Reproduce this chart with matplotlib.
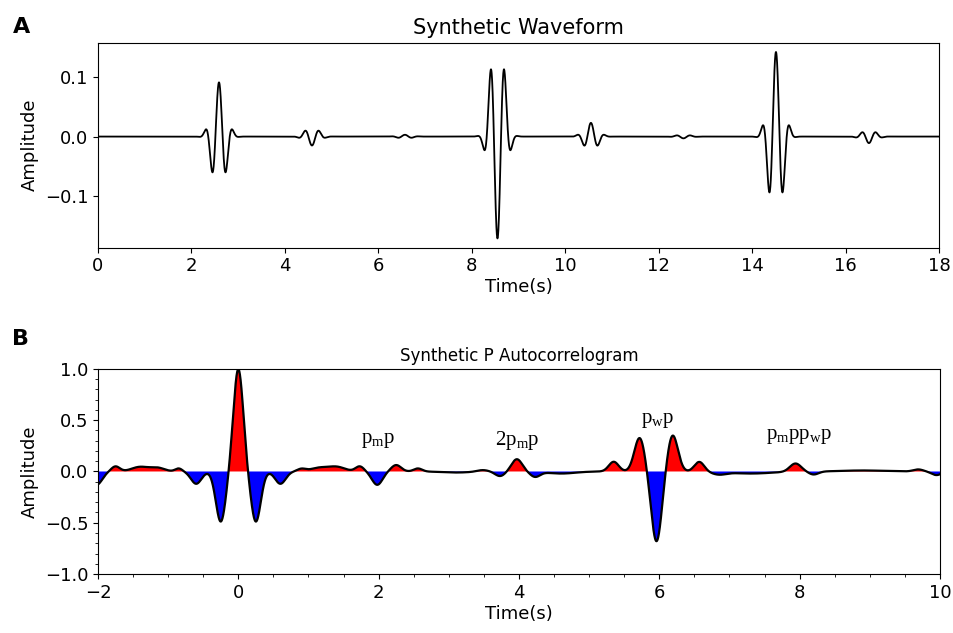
import numpy as np
import matplotlib
matplotlib.use('Agg')
import matplotlib.pyplot as plt
from matplotlib.ticker import MultipleLocator

# A: arrivals in the synthetic trace (time in s, signed peak amplitude)
event_time = [2.59, 4.58, 6.57, 8.55, 10.55, 12.53, 14.51, 16.50]
event_amp = [0.091, -0.015, 0.003, -0.171, 0.023, -0.003, 0.142, -0.011]

# B: lobes of the autocorrelogram (lag in s, amplitude, half width)
lobe_lag = [-2.02, -1.75, -1.40, -1.15, -0.85, -0.60, -0.25, 0.00, 0.25, 0.60,
            0.90, 1.15, 1.40, 1.73, 1.98, 2.25, 2.56, 3.10, 3.48, 3.73,
            3.97, 4.23, 4.60, 5.35, 5.72, 5.96, 6.19, 6.57, 6.85, 7.30,
            7.94, 8.20, 8.90, 9.69, 9.95]
lobe_amp = [-0.13, 0.05, 0.045, 0.035, 0.03, -0.12, -0.49, 1.00, -0.49, -0.12,
            0.025, 0.035, 0.045, 0.05, -0.13, 0.063, 0.03, -0.01, 0.015, -0.045,
            0.12, -0.05, -0.02, 0.095, 0.33, -0.685, 0.356, 0.095, -0.025, -0.02,
            0.08, -0.03, 0.01, 0.02, -0.035]
lobe_w = [0.08, 0.06, 0.12, 0.10, 0.05, 0.075, 0.07, 0.07, 0.07, 0.075,
          0.06, 0.12, 0.12, 0.06, 0.075, 0.07, 0.06, 0.20, 0.08, 0.07,
          0.075, 0.07, 0.20, 0.07, 0.075, 0.075, 0.075, 0.07, 0.10, 0.30,
          0.08, 0.07, 0.30, 0.07, 0.07]

# phase labels in B (x, y, text)
phase_x = [1.99, 3.98, 5.98, 7.99]
phase_y = [0.30, 0.30, 0.50, 0.34]
phase_txt = [r'$\mathregular{p_{m}p}$', r'$\mathregular{2p_{m}p}$',
             r'$\mathregular{p_{w}p}$', r'$\mathregular{p_{m}pp_{w}p}$']

f0 = 3.26   # wavelet frequency
s0 = 0.214  # envelope width
p0 = 2.3    # envelope exponent

t = np.linspace(0, 18, 6000)
trace = np.zeros_like(t)
for tc, a in zip(event_time, event_amp):
    dt = t - tc
    trace += a * np.exp(-np.abs(dt / s0) ** p0) * np.cos(2 * np.pi * f0 * dt)

lag = np.linspace(-2, 10, 6000)
acf = np.zeros_like(lag)
for lc, a, w in zip(lobe_lag, lobe_amp, lobe_w):
    acf += a * np.exp(-0.5 * ((lag - lc) / w) ** 2)

fig = plt.figure(figsize=(9.54, 6.33), dpi=100)
ax1 = fig.add_axes([0.1027, 0.6087, 0.8816, 0.3239])
ax2 = fig.add_axes([0.1027, 0.0932, 0.8826, 0.3239])

ax1.plot(t, trace, color='black', lw=1.3)
ax1.set_xlim(0, 18)
ax1.set_xticks(np.arange(0, 19, 2))
ax1.set_yticks([-0.1, 0.0, 0.1])
ax1.set_title('Synthetic Waveform', fontsize=15)
ax1.set_xlabel('Time(s)', fontsize=13, labelpad=2)
ax1.set_ylabel('Amplitude', fontsize=13)
ax1.tick_params(labelsize=13)

ax2.fill_between(lag, 0, acf, where=acf > 0, color='red', interpolate=True, lw=0)
ax2.fill_between(lag, 0, acf, where=acf < 0, color='blue', interpolate=True, lw=0)
ax2.plot(lag, acf, color='black', lw=1.6)
ax2.set_xlim(-2, 10)
ax2.set_ylim(-1, 1)
ax2.set_xticks(np.arange(-2, 11, 2))
ax2.set_yticks([-1.0, -0.5, 0.0, 0.5, 1.0])
ax2.xaxis.set_minor_locator(MultipleLocator(0.5))
ax2.yaxis.set_minor_locator(MultipleLocator(0.1))
ax2.set_title('Synthetic P Autocorrelogram', fontsize=12)
ax2.set_xlabel('Time(s)', fontsize=13, labelpad=2)
ax2.set_ylabel('Amplitude', fontsize=13)
ax2.tick_params(labelsize=13)

for x, y, s in zip(phase_x, phase_y, phase_txt):
    ax2.text(x, y, s, fontsize=15, family='Liberation Serif', ha='center', va='center')

fig.text(0.013, 0.948, 'A', fontsize=16, fontweight='bold')
fig.text(0.013, 0.455, 'B', fontsize=16, fontweight='bold')

fig.savefig('out.png', dpi=100)
